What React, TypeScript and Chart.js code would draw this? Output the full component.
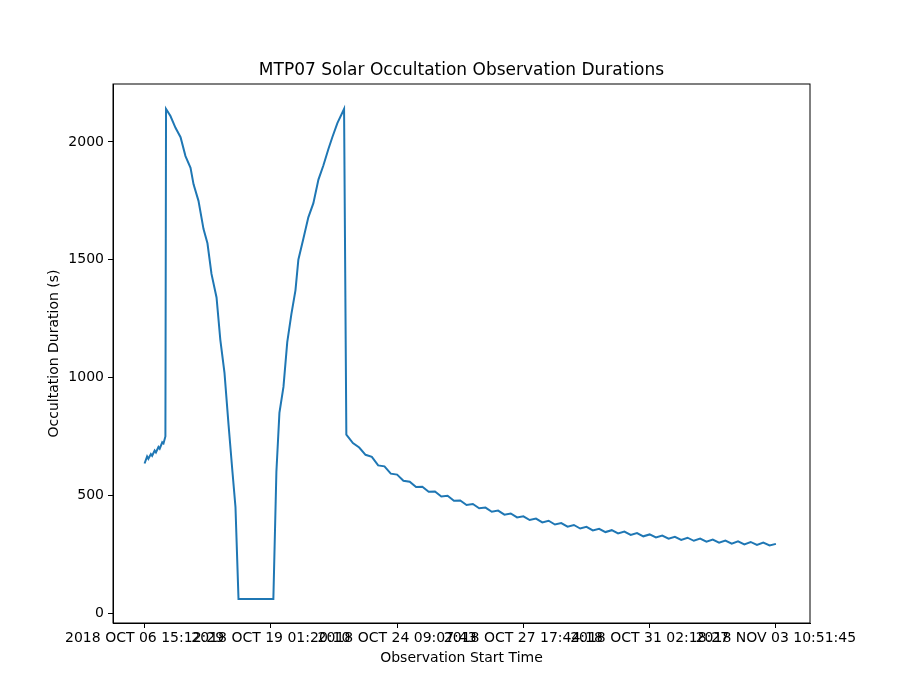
import { useEffect, useRef } from 'react';
import { Chart, registerables } from 'chart.js';

Chart.register(...registerables);

// observation index and occultation duration (s)
const obsIndex = [
  0, 2, 3, 5, 6, 8, 9, 11, 12, 14, 15, 16.5,
  17, 20.5, 24.5, 28.5, 32.4, 36.4, 38.8, 42.7, 46.7, 49.8, 53, 57, 60, 63.3, 66.5, 69.6, 72, 74.4,
  102, 104.4, 106.8, 110, 113, 116.3, 119.5, 121.8, 125.8, 129.7, 133.7, 137.7, 141.6, 145.6, 148.7, 152.7, 158,
  159.8, 165, 170, 175, 180, 185, 190, 195, 200, 205, 210, 215, 220, 225, 230, 235, 240, 245, 250, 255, 260,
  265, 270, 275, 280, 285, 290, 295, 300, 305, 310, 315, 320, 325, 330, 335, 340, 345, 350, 355, 360, 365,
  370, 375, 380, 385, 390, 395, 400, 405, 410, 415, 420, 425, 430, 435, 440, 445, 450, 455, 460, 465, 470,
  475, 480, 485, 490, 495, 500,
];
const durations = [
  635, 665, 655, 675, 668, 690, 682, 705, 698, 725, 720, 750,
  2140, 2110, 2060, 2020, 1940, 1890, 1820, 1750, 1630, 1570, 1440, 1340, 1160, 1020, 800, 600, 450, 60,
  60, 600, 850, 960, 1150, 1270, 1370, 1500, 1590, 1680, 1740, 1840, 1900, 1970, 2020, 2080, 2140,
  758, 722, 703, 672, 663, 627, 623, 592, 588, 562, 558, 535, 536, 515, 516, 495, 498, 477, 478, 459, 463,
  445, 448, 430, 435, 418, 423, 406, 411, 395, 401, 385, 392, 376, 382, 367, 374, 359, 366, 351, 358, 344,
  352, 338, 346, 332, 340, 326, 334, 321, 329, 316, 324, 311, 320, 307, 316, 303, 312, 299, 308, 295, 305,
  292, 302, 289, 299, 287, 294,
];
const tickIndex = [0, 100, 200, 300, 400, 500];
const tickLabels = [
  '2018 OCT 06 15:12:29', '2018 OCT 19 01:20:10', '2018 OCT 24 09:07:43',
  '2018 OCT 27 17:44:18', '2018 OCT 31 02:18:27', '2018 NOV 03 10:51:45',
];
const yTicks = [0, 500, 1000, 1500, 2000];

const decor = {
  id: 'decor',
  afterDraw(chart: any) {
    const { ctx, chartArea: a } = chart;
    ctx.save();
    ctx.strokeStyle = '#000';
    ctx.lineWidth = 1;
    ctx.strokeRect(a.left, a.top, a.right - a.left, a.bottom - a.top);
    ctx.fillStyle = '#000';
    ctx.textAlign = 'center';
    ctx.textBaseline = 'middle';
    const cx = (a.left + a.right) / 2;
    ctx.font = '17px "DejaVu Sans"';
    ctx.fillText('MTP07 Solar Occultation Observation Durations', cx, 71);
    ctx.font = '14px "DejaVu Sans"';
    ctx.fillText('Observation Start Time', cx, 658);
    ctx.translate(54, (a.top + a.bottom) / 2);
    ctx.rotate(-Math.PI / 2);
    ctx.fillText('Occultation Duration (s)', 0, 0);
    ctx.restore();
  },
};

export default function App() {
  const ref = useRef<HTMLCanvasElement>(null);

  useEffect(() => {
    if (!ref.current) return;
    const font = { family: 'DejaVu Sans', size: 14 };
    const chart = new Chart(ref.current, {
      type: 'line',
      data: {
        datasets: [{
          data: obsIndex.map((x, i) => ({ x, y: durations[i] })),
          borderColor: '#1f77b4',
          borderWidth: 2,
          pointRadius: 0,
          tension: 0,
        }],
      },
      options: {
        animation: false,
        responsive: false,
        layout: { padding: { top: 84, right: 90 } },
        plugins: {
          legend: { display: false },
          tooltip: { enabled: false },
        },
        scales: {
          x: {
            type: 'linear',
            min: -25,
            max: 527,
            afterBuildTicks: (s: any) => { s.ticks = tickIndex.map((v) => ({ value: v })); },
            afterFit: (s: any) => { s.height = 77; },
            ticks: {
              autoSkip: false,
              maxRotation: 0,
              color: '#000',
              font,
              padding: 2,
              callback: (v: any) => tickLabels[tickIndex.indexOf(Number(v))] ?? '',
            },
            grid: { drawOnChartArea: false, color: '#000', tickLength: 5 },
            border: { color: '#000' },
          },
          y: {
            min: -42,
            max: 2246,
            afterBuildTicks: (s: any) => { s.ticks = yTicks.map((v) => ({ value: v })); },
            afterFit: (s: any) => { s.width = 113; },
            ticks: { color: '#000', font, padding: 4, callback: (v: any) => String(v) },
            grid: { drawOnChartArea: false, color: '#000', tickLength: 5 },
            border: { color: '#000' },
          },
        },
      },
      plugins: [decor],
    });
    return () => chart.destroy();
  }, []);

  return (
    <div style={{ position: 'fixed', left: 0, top: 0, width: 900, height: 700, background: '#fff' }}>
      <canvas ref={ref} width={900} height={700}></canvas>
    </div>
  );
}
